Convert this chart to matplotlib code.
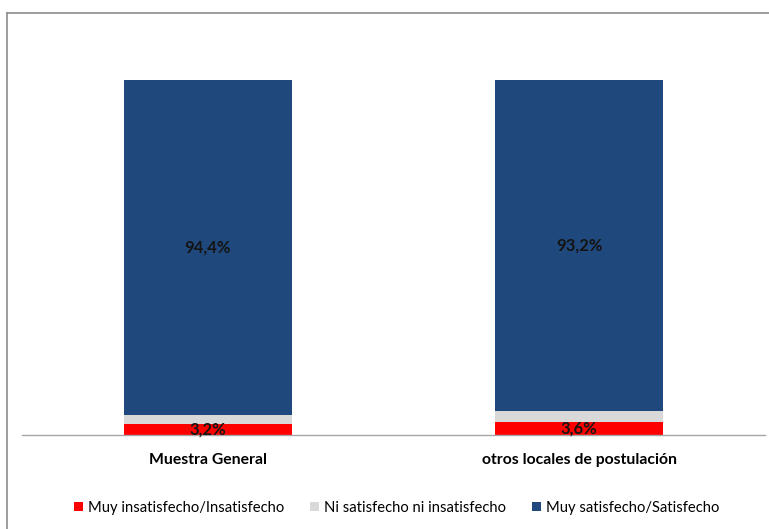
import matplotlib.pyplot as plt
from matplotlib.lines import Line2D

plt.rcParams['font.family'] = ['Lato', 'DejaVu Sans']

categories = ["Muestra General", "otros locales de postulación"]
insatisfecho = [3.2, 3.6]
neutral = [2.4, 3.2]
satisfecho = [94.4, 93.2]
series_names = ["Muy insatisfecho/Insatisfecho",
                "Ni satisfecho ni insatisfecho",
                "Muy satisfecho/Satisfecho"]
colors = ["#FF0000", "#D9D9D9", "#1F497D"]

W, H = 769, 529
fig = plt.figure(figsize=(W / 100, H / 100), dpi=100)

# outer chart frame (only left and top edges are visible)
fig.add_artist(Line2D([7 / W, 7 / W], [0, 1 - 13 / H], color="#8c8c8c", lw=1.2))
fig.add_artist(Line2D([7 / W, 1], [1 - 13 / H, 1 - 13 / H], color="#8c8c8c", lw=1.2))

ax = fig.add_axes([22 / W, (H - 435) / H, (765 - 22) / W, (435 - 80) / H])

x = list(range(len(categories)))
width = 0.452
bottom = [0.0] * len(categories)
for vals, name, col in zip([insatisfecho, neutral, satisfecho], series_names, colors):
    ax.bar(x, vals, width, bottom=bottom, color=col, label=name, edgecolor="none")
    if col != "#D9D9D9":
        for xi, b, v in zip(x, bottom, vals):
            ax.text(xi, b + v / 2, f"{v:.1f}%".replace(".", ","), ha="center", va="center",
                    fontsize=12, fontweight="bold", color="#141414")
    bottom = [b + v for b, v in zip(bottom, vals)]

ax.set_xlim(-0.5, 1.5)
ax.set_ylim(0, 100)
ax.set_yticks([])
ax.set_xticks(x)
ax.set_xticklabels(categories, fontsize=11.3, fontweight="bold")
ax.tick_params(axis="x", length=0, pad=13)
for side in ["top", "right", "left"]:
    ax.spines[side].set_visible(False)
ax.spines["bottom"].set_color("#a6a6a6")
ax.spines["bottom"].set_linewidth(1.0)

handles, labels = ax.get_legend_handles_labels()
fig.legend(handles, labels, loc="center", bbox_to_anchor=(397 / W, 1 - 508 / H), ncol=3,
           frameon=False, fontsize=10.6, handlelength=0.6, handleheight=0.6,
           handletextpad=0.35, columnspacing=1.75)

fig.savefig("out.png", dpi=100)
